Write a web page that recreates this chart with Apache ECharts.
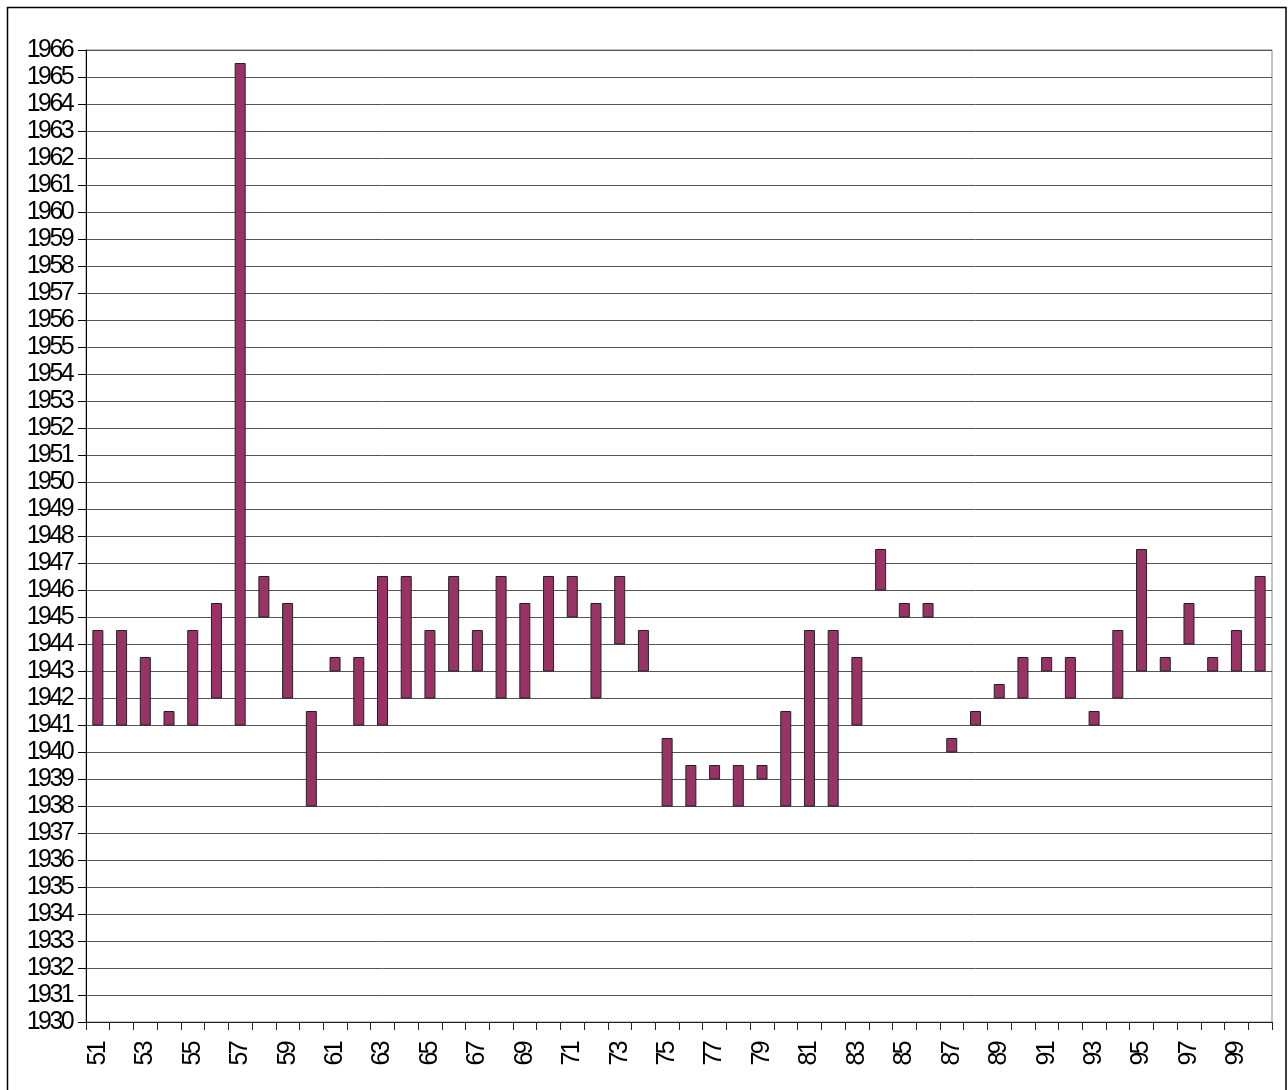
<!doctype html>
<html>
<head>
    <meta charset="utf-8">
    <title>chart</title>
    <script src="https://cdn.jsdelivr.net/npm/echarts@6/dist/echarts.min.js"></script>
    <style>
        html, body { margin: 0; padding: 0; background: #fff; }
        #main { width: 1288px; height: 1090px; }
    </style>
</head>
<body>
<div id="main"></div>
<script>
    // categories 51..100
    const years = ['51','52','53','54','55','56','57','58','59','60',
        '61','62','63','64','65','66','67','68','69','70',
        '71','72','73','74','75','76','77','78','79','80',
        '81','82','83','84','85','86','87','88','89','90',
        '91','92','93','94','95','96','97','98','99','100'];

    // bottom of each bar
    const lows = [1941, 1941, 1941, 1941, 1941, 1942, 1941, 1945, 1942, 1938,
        1943, 1941, 1941, 1942, 1942, 1943, 1943, 1942, 1942, 1943,
        1945, 1942, 1944, 1943, 1938, 1938, 1939, 1938, 1939, 1938,
        1938, 1938, 1941, 1946, 1945, 1945, 1940, 1941, 1942, 1942,
        1943, 1942, 1941, 1942, 1943, 1943, 1944, 1943, 1943, 1943];

    // top of each bar
    const highs = [1944.5, 1944.5, 1943.5, 1941.5, 1944.5, 1945.5, 1965.5, 1946.5, 1945.5, 1941.5,
        1943.5, 1943.5, 1946.5, 1946.5, 1944.5, 1946.5, 1944.5, 1946.5, 1945.5, 1946.5,
        1946.5, 1945.5, 1946.5, 1944.5, 1940.5, 1939.5, 1939.5, 1939.5, 1939.5, 1941.5,
        1944.5, 1944.5, 1943.5, 1947.5, 1945.5, 1945.5, 1940.5, 1941.5, 1942.5, 1943.5,
        1943.5, 1943.5, 1941.5, 1944.5, 1947.5, 1943.5, 1945.5, 1943.5, 1944.5, 1946.5];

    const yMin = 1930, yMax = 1966;

    const font = '"Liberation Sans", Arial, sans-serif';

    // the original labels are narrow; squeeze the glyphs a little
    const origFillText = CanvasRenderingContext2D.prototype.fillText;
    CanvasRenderingContext2D.prototype.fillText = function () {
        this.letterSpacing = '-2.6px';
        return origFillText.apply(this, arguments);
    };

    const barData = years.map((y, i) => [i, lows[i], highs[i]]);

    const myChart = echarts.init(document.getElementById('main'));

    const option = {
        animation: false,
        backgroundColor: '#fff',
        grid: {
            left: 86,
            right: 16,
            top: 50,
            bottom: 68,
            show: true,
            borderColor: '#888',
            borderWidth: 1
        },
        graphic: [{
            type: 'rect',
            shape: {x: 7.5, y: 7.5, width: 1278.5, height: 1100},
            style: {fill: 'none', stroke: '#000', lineWidth: 1.5},
            silent: true,
            z: 100
        }],
        xAxis: {
            type: 'category',
            data: years,
            boundaryGap: true,
            axisLine: {lineStyle: {color: '#222', width: 1}},
            axisTick: {show: true, interval: 0, length: 8, lineStyle: {color: '#222'}},
            axisLabel: {
                interval: 1,
                rotate: 90,
                margin: 21,
                color: '#000',
                fontSize: 25,
                fontFamily: font
            },
            splitLine: {show: false}
        },
        yAxis: {
            type: 'value',
            min: yMin,
            max: yMax,
            interval: 1,
            axisLine: {show: true, lineStyle: {color: '#000', width: 1}},
            axisTick: {show: true, length: 8, lineStyle: {color: '#000'}},
            axisLabel: {
                margin: 14,
                color: '#000',
                fontSize: 25,
                fontFamily: font,
                formatter: v => String(v)
            },
            splitLine: {show: true, lineStyle: {color: '#555', width: 1}}
        },
        series: [{
            type: 'custom',
            data: barData,
            encode: {x: 0, y: [1, 2]},
            renderItem: function (params, api) {
                const idx = api.value(0);
                const lo = api.coord([idx, api.value(1)]);
                const hi = api.coord([idx, api.value(2)]);
                const w = 10;
                return {
                    type: 'rect',
                    shape: {x: lo[0] - w / 2, y: hi[1], width: w, height: lo[1] - hi[1]},
                    style: {fill: '#993366', stroke: '#222', lineWidth: 1}
                };
            }
        }]
    };

    myChart.setOption(option);
</script>
</body>
</html>
